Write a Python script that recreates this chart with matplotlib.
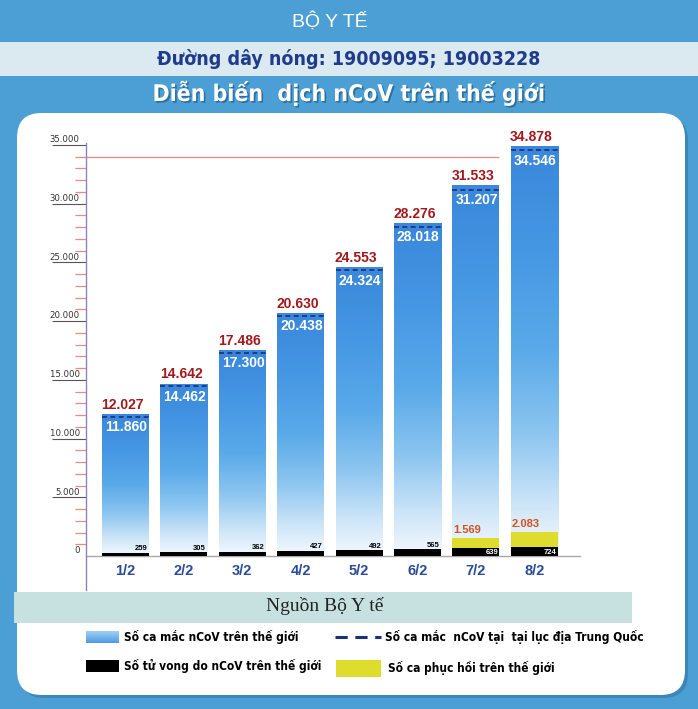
import numpy as np
import matplotlib
matplotlib.use("Agg")
import matplotlib.pyplot as plt
from matplotlib import font_manager
from matplotlib.patches import Rectangle, FancyBboxPatch
from matplotlib.colors import LinearSegmentedColormap
import matplotlib.patheffects as pe

# ---------------- data ----------------
dates = ["1/2", "2/2", "3/2", "4/2", "5/2", "6/2", "7/2", "8/2"]
world_cases = [12027, 14642, 17486, 20630, 24553, 28276, 31533, 34878]
china_cases = [11860, 14462, 17300, 20438, 24324, 28018, 31207, 34546]
deaths = [259, 305, 362, 427, 492, 565, 639, 724]
recovered = [0, 0, 0, 0, 0, 0, 1569, 2083]
y_major = [0, 5000, 10000, 15000, 20000, 25000, 30000, 35000]
red_line_value = 34000

# ---------------- fonts ----------------
names = {f.name for f in font_manager.fontManager.ttflist}
if "Liberation Sans Narrow" in names:
    NARROW, STRETCH = "Liberation Sans Narrow", "normal"
else:
    NARROW, STRETCH = "DejaVu Sans", "condensed"
SANS = "Liberation Sans" if "Liberation Sans" in names else "DejaVu Sans"
SERIF = "Liberation Serif" if "Liberation Serif" in names else "DejaVu Serif"

W, H = 698, 709
fig = plt.figure(figsize=(W / 100, H / 100), dpi=100)
fig.patch.set_facecolor("#4c9fd4")


def fx(x):
    return x / W


def fy(y):
    return 1 - y / H


# light hotline band
fig.add_artist(Rectangle((0, fy(76)), 1, fy(42) - fy(76), transform=fig.transFigure,
                         facecolor="#dbe9f1", edgecolor="none", zorder=0))
# card shadow + card
fig.add_artist(FancyBboxPatch((fx(20), fy(698)), fx(685) - fx(17), fy(113) - fy(695),
                              boxstyle="round,pad=0,rounding_size=0.035",
                              transform=fig.transFigure, facecolor="#3a80b3",
                              edgecolor="none", zorder=0.5, alpha=0.8))
fig.add_artist(FancyBboxPatch((fx(17), fy(695)), fx(685) - fx(17), fy(113) - fy(695),
                              boxstyle="round,pad=0,rounding_size=0.035",
                              transform=fig.transFigure, facecolor="white",
                              edgecolor="none", zorder=0.6))
# source band
fig.add_artist(Rectangle((fx(14), fy(623)), fx(632) - fx(14), fy(592) - fy(623),
                         transform=fig.transFigure, facecolor="#c6e1df",
                         edgecolor="none", zorder=0.7))

# header texts
fig.text(fx(330), fy(21), "BỘ Y TẾ", ha="center", va="center", color="white",
         fontsize=14, family=SANS, fontweight="light")
fig.text(fx(349), fy(59), "Đường dây nóng: 19009095; 19003228", ha="center", va="center",
         color="#1f3c8c", fontsize=14, family=NARROW, fontstretch=STRETCH, fontweight="bold")
fig.text(fx(349), fy(93), "Diễn biến  dịch nCoV trên thế giới", ha="center", va="center",
         color="white", fontsize=16.5, family=NARROW, fontstretch=STRETCH, fontweight="bold",
         path_effects=[pe.withSimplePatchShadow(offset=(1.2, -1.2), shadow_rgbFace="#1d4f78", alpha=0.6)])
fig.text(fx(325), fy(606), "Nguồn Bộ Y tế", ha="center", va="center", color="#222222",
         fontsize=14, family=SERIF, zorder=2)

# ---------------- chart axes ----------------
ax_left_px, ax_right_px = 86, 580
zero_px, top_px = 556, 143
px_per_unit = (556 - 145) / 35000.0
ax = fig.add_axes([fx(ax_left_px), fy(zero_px), fx(ax_right_px) - fx(ax_left_px),
                   fy(top_px) - fy(zero_px)])
ax.set_facecolor("none")
ax.set_zorder(1)

step = 58.4
xlim = ((ax_left_px - 125.5) / step, (ax_right_px - 125.5) / step)
ylim = (0, (zero_px - top_px) / px_per_unit)
x = np.arange(len(dates))
w = 47 / step

cmap = LinearSegmentedColormap.from_list("bar", [
    (0.0, "#f4f9fe"), (0.12, "#cfe6f8"), (0.3, "#8cc5f0"),
    (0.5, "#5aaae9"), (0.75, "#4597e3"), (1.0, "#3a87db")])
grad = np.linspace(0, 1, 256).reshape(-1, 1)

bars = ax.bar(x, world_cases, width=w, color="none", edgecolor="none", zorder=2)
for b in bars:
    ax.imshow(grad, extent=[b.get_x(), b.get_x() + b.get_width(), 0, b.get_height()],
              origin="lower", aspect="auto", cmap=cmap, zorder=2)

ax.bar(x, recovered, width=w, color="#dedc2c", zorder=3)
ax.bar(x, deaths, width=w, color="black", zorder=4)
ax.hlines(china_cases, x - w / 2, x + w / 2, colors="#1b2f7e", linestyles=(0, (3, 2)),
          linewidth=1.2, zorder=5)
ax.hlines(red_line_value, xlim[0], x[6] + w / 2, colors="#e58a8a", linewidth=0.9, zorder=1)


def fmt(v):
    return f"{v:,}".replace(",", ".")


for i in range(len(dates)):
    ax.annotate(fmt(world_cases[i]), (x[i] - w / 2, world_cases[i]), xytext=(-0.5, 2),
                textcoords="offset points", ha="left", va="bottom", color="#a3181c",
                fontsize=10, fontweight="bold", family=SANS, zorder=6)
    ax.annotate(fmt(china_cases[i]), (x[i] + w / 2, china_cases[i]), xytext=(-1, -2.5),
                textcoords="offset points", ha="right", va="top", color="white",
                fontsize=10, fontweight="bold", family=SANS, zorder=6)
    if recovered[i] > 0:
        ax.annotate(fmt(recovered[i]), (x[i] - w / 2, recovered[i]), xytext=(0.5, 1.5),
                    textcoords="offset points", ha="left", va="bottom", color="#d2521e",
                    fontsize=8, fontweight="bold", family=SANS, zorder=6)
        ax.annotate(fmt(deaths[i]), (x[i] + w / 2, deaths[i] / 2), xytext=(-1, -0.5),
                    textcoords="offset points", ha="right", va="center", color="white",
                    fontsize=5.5, fontweight="bold", family=SANS, zorder=6)
    else:
        ax.annotate(fmt(deaths[i]), (x[i] + w / 2, deaths[i]), xytext=(-1, 0.5),
                    textcoords="offset points", ha="right", va="bottom", color="black",
                    fontsize=5.5, fontweight="bold", family=SANS, zorder=6)

ax.set_xlim(*xlim)
ax.set_ylim(*ylim)

# x axis
ax.set_xticks(x, dates)
ax.tick_params(axis="x", length=0, pad=6, labelsize=10.5, labelcolor="#2b4c9b")
for t in ax.get_xticklabels():
    t.set_fontweight("bold")
    t.set_family(SANS)

# y axis
ax.set_yticks(y_major[1:])
ax.set_yticks([v for v in range(1000, 35000, 1000) if v % 5000 != 0], minor=True)
ax.tick_params(axis="y", which="major", length=24.5, width=0.8, color="#555555",
               labelleft=False)
ax.tick_params(axis="y", which="minor", length=8, width=0.9, color="#e58a8a")
for v in y_major:
    ax.annotate(fmt(v), (0, v), xycoords=("axes fraction", "data"), xytext=(-4.5, 0.5),
                textcoords="offset points", ha="right", va="bottom", fontsize=6.8,
                color="#333333", family=NARROW, fontstretch=STRETCH)

for s in ["top", "right", "left"]:
    ax.spines[s].set_visible(False)
ax.spines["bottom"].set_color("#a8a8a8")
ax.spines["bottom"].set_linewidth(1)
ax.plot([0, 0], [-(590 - zero_px) / (zero_px - top_px), 1], transform=ax.transAxes,
        color="#8a86b8", linewidth=1, clip_on=False, zorder=7)

# ---------------- legend ----------------
leg_ax = fig.add_axes([fx(86), fy(643), fx(119) - fx(86), fy(631) - fy(643)])
leg_ax.set_zorder(3)
leg_ax.imshow(grad, aspect="auto", cmap=LinearSegmentedColormap.from_list(
    "sw", ["#a9d4f5", "#4a9be6"]), origin="upper")
leg_ax.axis("off")
fig.add_artist(Rectangle((fx(86), fy(672)), fx(119) - fx(86), fy(660) - fy(672),
                         transform=fig.transFigure, facecolor="black", edgecolor="none", zorder=2))
fig.add_artist(Rectangle((fx(336), fy(677)), fx(381) - fx(336), fy(660) - fy(677),
                         transform=fig.transFigure, facecolor="#dedc2c", edgecolor="none", zorder=2))
fig.add_artist(matplotlib.lines.Line2D([fx(335), fx(381)], [fy(637), fy(637)],
                                       transform=fig.transFigure, color="#1b2f7e",
                                       linewidth=2.2, linestyle=(0, (4, 2.5)), zorder=2))
leg_kw = dict(va="center", ha="left", fontsize=8.6, family=NARROW, fontstretch=STRETCH,
              fontweight="bold", color="black", zorder=3)
fig.text(fx(124), fy(637), "Số ca mắc nCoV trên thế giới", **leg_kw)
fig.text(fx(124), fy(666), "Số tử vong do nCoV trên thế giới", **leg_kw)
fig.text(fx(385), fy(637), "Số ca mắc  nCoV tại  tại lục địa Trung Quốc", **leg_kw)
fig.text(fx(388), fy(668), "Số ca phục hồi trên thế giới", **leg_kw)

fig.savefig("out.png", dpi=100)
